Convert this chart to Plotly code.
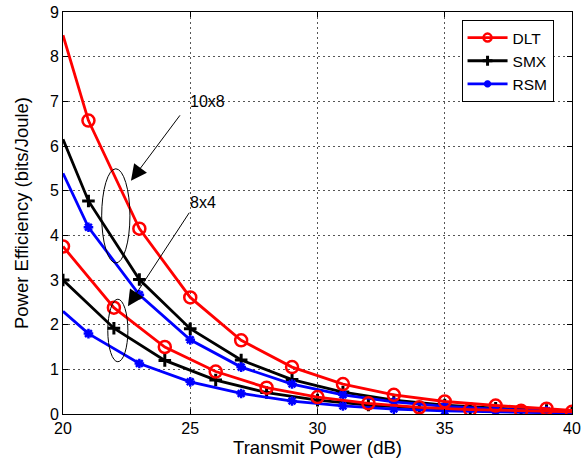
import plotly.graph_objects as go

# ---- data ----
x_10x8 = [20, 21, 23, 25, 27, 29, 31, 33, 35, 37, 39, 40]
dlt_10x8 = [8.48, 6.57, 4.15, 2.61, 1.65, 1.05, 0.67, 0.43, 0.28, 0.19, 0.12, 0.08]
smx_10x8 = [6.15, 4.77, 3.01, 1.91, 1.21, 0.77, 0.49, 0.31, 0.20, 0.13, 0.08, 0.06]
rsm_10x8 = [5.39, 4.18, 2.67, 1.66, 1.05, 0.67, 0.43, 0.27, 0.17, 0.11, 0.07, 0.05]
marked_10x8 = [False, True, True, True, True, True, True, True, True, True, True, False]

x_8x4_even = [20, 22, 24, 26, 28, 30, 32, 34, 36, 38, 40]
dlt_8x4 = [3.75, 2.38, 1.50, 0.95, 0.59, 0.38, 0.24, 0.15, 0.10, 0.07, 0.05]
smx_8x4 = [3.00, 1.92, 1.20, 0.76, 0.48, 0.31, 0.20, 0.13, 0.08, 0.05, 0.03]
marked_8x4_even = [True] * 11

x_8x4_odd = [20, 21, 23, 25, 27, 29, 31, 33, 35, 37, 39, 40]
rsm_8x4 = [2.30, 1.80, 1.13, 0.72, 0.46, 0.29, 0.18, 0.11, 0.07, 0.05, 0.03, 0.02]
marked_8x4_odd = [False, True, True, True, True, True, True, True, True, True, True, False]

methods = ["DLT", "SMX", "RSM"]
x_ticks = [20, 25, 30, 35, 40]
y_ticks = list(range(0, 10))

FONT = "Liberation Sans, Arial, sans-serif"
style = {
    "DLT": dict(color="#FF0000", symbol="circle-open", size=12, mlw=2.5, lsize=8),
    "SMX": dict(color="#000000", symbol="cross-thin-open", size=9, mlw=3, lsize=7),
    "RSM": dict(color="#0000FF", symbol="asterisk-open", size=8, mlw=2.5, lsize=6),
}
LW = 2.8

fig = go.Figure()

series = [
    ("SMX", x_10x8, smx_10x8, marked_10x8),
    ("SMX", x_8x4_even, smx_8x4, marked_8x4_even),
    ("RSM", x_10x8, rsm_10x8, marked_10x8),
    ("RSM", x_8x4_odd, rsm_8x4, marked_8x4_odd),
    ("DLT", x_10x8, dlt_10x8, marked_10x8),
    ("DLT", x_8x4_even, dlt_8x4, marked_8x4_even),
]

for name, xs, ys, marked in series:
    s = style[name]
    fig.add_trace(go.Scatter(x=xs, y=ys, mode="lines", showlegend=False,
                             line=dict(color=s["color"], width=LW), hoverinfo="skip"))
    mx = [x for x, m in zip(xs, marked) if m]
    my = [y for y, m in zip(ys, marked) if m]
    fig.add_trace(go.Scatter(x=mx, y=my, mode="markers", showlegend=False,
                             marker=dict(symbol=s["symbol"], size=s["size"], color=s["color"],
                                         line=dict(color=s["color"], width=s["mlw"]))))

for name in methods:
    s = style[name]
    fig.add_trace(go.Scatter(x=[None], y=[None], mode="lines+markers", name=name,
                             line=dict(color=s["color"], width=LW),
                             marker=dict(symbol=s["symbol"], size=s["lsize"], color=s["color"],
                                         line=dict(color=s["color"], width=s["mlw"]))))

# ellipses
fig.add_shape(type="circle", xref="x", yref="y", x0=21.52, x1=22.63, y0=3.38, y1=5.49,
              line=dict(color="black", width=1))
fig.add_shape(type="circle", xref="x", yref="y", x0=21.76, x1=22.55, y0=1.17, y1=2.57,
              line=dict(color="black", width=1))

# arrows + labels
fig.add_annotation(x=22.67, y=5.22, ax=24.64, ay=6.72, xref="x", yref="y", axref="x", ayref="y",
                   text="", showarrow=True, arrowhead=2, arrowsize=3.2, arrowwidth=1, arrowcolor="black")
fig.add_annotation(x=22.55, y=2.41, ax=25.0, ay=4.54, xref="x", yref="y", axref="x", ayref="y",
                   text="", showarrow=True, arrowhead=2, arrowsize=3.2, arrowwidth=1, arrowcolor="black")
fig.add_annotation(x=25.66, y=7.0, text="10x8", showarrow=False, xref="x", yref="y",
                   font=dict(family=FONT, size=16, color="black"))
fig.add_annotation(x=25.5, y=4.74, text="8x4", showarrow=False, xref="x", yref="y",
                   font=dict(family=FONT, size=16, color="black"))

axis_common = dict(
    showline=True, linecolor="black", linewidth=1, mirror="ticks",
    ticks="inside", ticklen=5, tickcolor="black",
    showgrid=True, gridcolor="#555555", griddash="2px,3px", gridwidth=1,
    zeroline=False, automargin=False,
    tickfont=dict(family=FONT, size=16, color="black"),
)

fig.update_layout(
    width=583, height=464,
    margin=dict(l=63, r=11, t=12, b=50),
    paper_bgcolor="white", plot_bgcolor="white",
    font=dict(family=FONT, color="black"),
    xaxis=dict(range=[20, 40], tickvals=x_ticks,
               title=dict(text="Transmit Power (dB)", font=dict(family=FONT, size=18.5), standoff=4),
               **axis_common),
    yaxis=dict(range=[0, 9], tickvals=y_ticks,
               title=dict(text="Power Efficiency (bits/Joule)", font=dict(family=FONT, size=18.5), standoff=16),
               **axis_common),
    legend=dict(x=0.783, y=0.98, xanchor="left", yanchor="top",
                bgcolor="white", bordercolor="black", borderwidth=1,
                font=dict(family=FONT, size=15.5, color="black"),
                tracegroupgap=0, itemwidth=40),
    showlegend=True,
)

fig.write_html("out.html")
